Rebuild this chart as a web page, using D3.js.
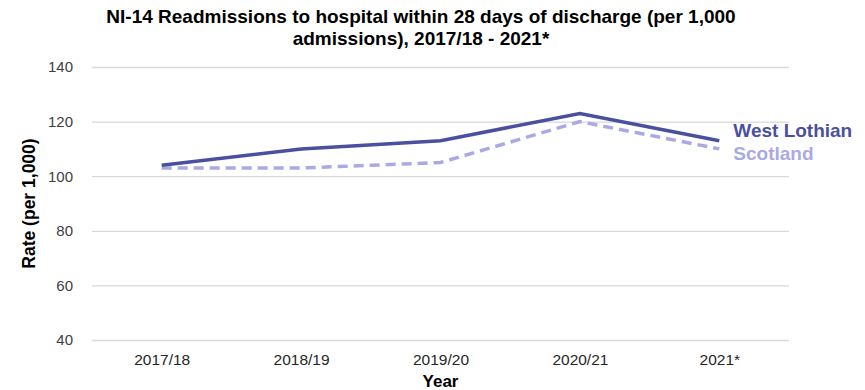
<!DOCTYPE html>
<html>
<head>
<meta charset="utf-8">
<script src="https://cdn.jsdelivr.net/npm/d3@7/dist/d3.min.js"></script>
<style>
  html, body { margin: 0; padding: 0; background: #fff; }
  svg { display: block; font-family: "Liberation Sans", Arial, sans-serif; }
</style>
</head>
<body>
<svg id="chart" width="865" height="390"></svg>
<script>
// NI-14 readmissions within 28 days (per 1,000 admissions)
const years = ["2017/18", "2018/19", "2019/20", "2020/21", "2021*"];
const westLothian = [104, 110, 113, 123, 113];
const scotland = [103, 103, 105, 120, 110];
const yTicks = [40, 60, 80, 100, 120, 140];

const svg = d3.select("#chart");
const margin = { top: 67, right: 76, bottom: 50, left: 92 };
const width = 865 - margin.left - margin.right;
const height = 390 - margin.top - margin.bottom;

const x = d3.scalePoint().domain(years).range([0, width]).padding(0.5);
const y = d3.scaleLinear().domain([40, 140]).range([height, 0]);

const g = svg.append("g").attr("transform", `translate(${margin.left},${margin.top})`);

// horizontal gridlines
g.append("g")
  .call(d3.axisLeft(y).tickValues(yTicks).tickSize(-width).tickFormat(""))
  .call(s => s.select(".domain").remove())
  .call(s => s.selectAll("line").attr("stroke", "#d9d9d9").attr("stroke-width", 1.3));

// y tick labels
g.append("g")
  .call(d3.axisLeft(y).tickValues(yTicks).tickSize(0).tickPadding(19))
  .call(s => s.select(".domain").remove())
  .call(s => s.selectAll("text").attr("fill", "#404040").style("font-size", "15px")
    .style("font-family", "'Liberation Sans', Arial, sans-serif"));

// x tick labels
g.append("g")
  .attr("transform", `translate(0,${height})`)
  .call(d3.axisBottom(x).tickSize(0).tickPadding(14))
  .call(s => s.select(".domain").remove())
  .call(s => s.selectAll("text").attr("fill", "#262626").style("font-size", "15.5px")
    .style("font-family", "'Liberation Sans', Arial, sans-serif"));

const line = d3.line().x((d, i) => x(years[i])).y(d => y(d));

g.append("path")
  .datum(scotland)
  .attr("fill", "none")
  .attr("stroke", "#a9a9e4")
  .attr("stroke-width", 3.5)
  .attr("stroke-dasharray", "10,6")
  .attr("d", line);

g.append("path")
  .datum(westLothian)
  .attr("fill", "none")
  .attr("stroke", "#4b4f9f")
  .attr("stroke-width", 3.5)
  .attr("d", line);

// series labels at the right end
const last = years.length - 1;
g.append("text")
  .attr("x", x(years[last]) + 14)
  .attr("y", 137 - margin.top)
  .attr("fill", "#4b4f9f")
  .style("font-size", "19px").style("font-weight", "bold")
  .text("West Lothian");
g.append("text")
  .attr("x", x(years[last]) + 14)
  .attr("y", 160 - margin.top)
  .attr("fill", "#a9a9e4")
  .style("font-size", "19px").style("font-weight", "bold")
  .text("Scotland");

// title
const title = svg.append("text")
  .attr("x", 421).attr("y", 23)
  .attr("text-anchor", "middle")
  .attr("fill", "#000")
  .style("font-size", "19px").style("font-weight", "bold");
title.append("tspan").attr("x", 421).text("NI-14 Readmissions to hospital within 28 days of discharge (per 1,000");
title.append("tspan").attr("x", 421).attr("dy", 22).text("admissions), 2017/18 - 2021*");

// axis titles
svg.append("text")
  .attr("transform", `translate(35,${margin.top + height / 2}) rotate(-90)`)
  .attr("text-anchor", "middle")
  .attr("fill", "#000")
  .style("font-size", "17.5px").style("font-weight", "bold")
  .text("Rate (per 1,000)");

svg.append("text")
  .attr("x", margin.left + width / 2)
  .attr("y", 387)
  .attr("text-anchor", "middle")
  .attr("fill", "#000")
  .style("font-size", "17px").style("font-weight", "bold")
  .text("Year");
</script>
</body>
</html>
